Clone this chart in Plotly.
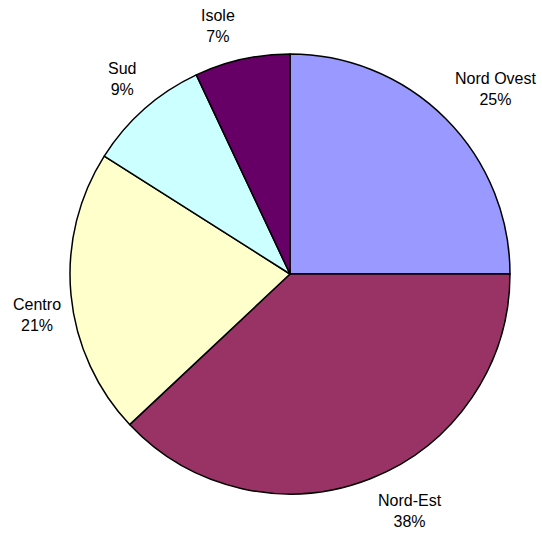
import math
import plotly.graph_objects as go

# Regional shares (percent), clockwise from 12 o'clock
regions = ["Nord Ovest", "Nord-Est", "Centro", "Sud", "Isole"]
shares = [25, 38, 21, 9, 7]
colors = ["#9999FF", "#993366", "#FFFFCC", "#CCFFFF", "#660066"]

W, H = 542, 533
cx, cy, r = 290, 274, 220  # pie centre and radius in pixels
FONT_SIZE = 16
gap = 15                   # distance from rim to the label box corner
line_h = 37                # height of a two-line label box

fig = go.Figure(go.Pie(
    labels=regions,
    values=shares,
    sort=False,
    direction="clockwise",
    rotation=0,
    marker=dict(colors=colors, line=dict(color="black", width=1.5)),
    textinfo="none",
    hoverinfo="label+percent",
    showlegend=False,
    domain=dict(x=[(cx - r) / W, (cx + r) / W],
                y=[(H - cy - r) / H, (H - cy + r) / H]),
))

# Each label box sits just outside its slice: the box corner nearest the
# pie touches a point on the slice's mid-angle ray, then it is kept inside
# the figure.
total = sum(shares)
cum = 0
annotations = []
for name, v in zip(regions, shares):
    mid = (cum + v / 2) / total * 2 * math.pi
    cum += v
    s, c = math.sin(mid), math.cos(mid)
    ax = cx + (r + gap) * s
    ay = cy - (r + gap) * c
    box_w = len(name) * 0.53 * FONT_SIZE
    px = ax + math.copysign(box_w / 2, s)
    py = ay - math.copysign(line_h / 2, c)
    px = min(max(px, 12 + box_w / 2), W - 4 - box_w / 2)
    py = min(max(py, 8 + line_h / 2), H - 4 - line_h / 2)
    pct = round(v / total * 100)
    annotations.append(dict(
        x=px / W, y=(H - py) / H, xref="paper", yref="paper",
        text=f"{name}<br>{pct}%", showarrow=False,
        xanchor="center", yanchor="middle", align="center",
        font=dict(family="Liberation Sans, Arial, sans-serif",
                  size=FONT_SIZE, color="black"),
    ))

fig.update_layout(
    width=W, height=H,
    margin=dict(l=0, r=0, t=0, b=0),
    paper_bgcolor="white",
    plot_bgcolor="white",
    annotations=annotations,
)

fig.write_html("out.html")
